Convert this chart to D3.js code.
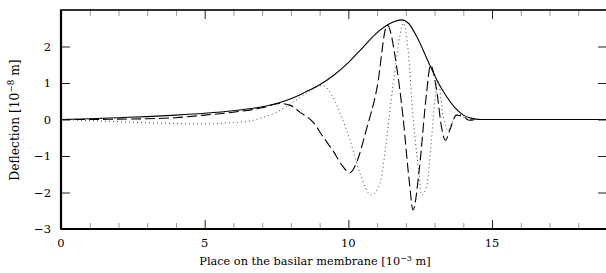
<!DOCTYPE html>
<html><head><meta charset="utf-8">
<script src="https://cdn.jsdelivr.net/npm/d3@7"></script>
<style>
html,body{margin:0;padding:0;background:#fff;}
svg{display:block;}
text{font-family:"DejaVu Serif","Liberation Serif",serif;fill:#000;}
</style></head>
<body>
<svg id="chart" width="606" height="273"></svg>
<script>
// ---- data ----
const xTicksMajor = [0, 5, 10, 15];
const xTicksMinor = [1,2,3,4,6,7,8,9,11,12,13,14,16,17,18];
const yTicks = [-3, -2, -1, 0, 1, 2];

const envX = [0,1,2,3,4,5,6,7,7.5,8,8.5,9,9.5,10,10.5,11,11.5,11.85,12.1,12.4,12.8,13.1,13.4,13.7,14,14.3,14.6,15,19];
const envY = [0,0.02,0.05,0.08,0.12,0.17,0.24,0.35,0.44,0.57,0.75,0.95,1.22,1.56,1.97,2.38,2.65,2.73,2.63,2.24,1.55,1.05,0.65,0.33,0.12,0.03,0,0,0];

const dashX = [0,1,2,3,4,5,6,7,7.6,8.0,8.3,8.8,9.1,9.5,9.8,10.05,10.3,10.6,11.0,11.35,11.68,11.9,12.12,12.25,12.47,12.72,12.86,13.07,13.24,13.38,13.53,13.76,14.0,14.2,14.5,19];
const dashY = [0,0,0.01,0.02,0.05,0.12,0.2,0.32,0.44,0.38,0.21,-0.1,-0.45,-0.9,-1.28,-1.46,-1.15,-0.35,0.88,2.59,1.45,0.08,-1.7,-2.48,-1.35,0.72,1.49,0.81,-0.2,-0.57,-0.29,0.12,0.08,-0.02,0,0];

const dotX = [0,1,2,3,4,5,6,6.5,7,7.5,8,8.5,8.9,9.1,9.47,9.8,10.05,10.4,10.8,11.1,11.33,11.56,11.79,11.92,12.08,12.25,12.43,12.56,12.72,12.89,13.0,13.12,13.3,13.47,13.62,13.85,14.1,14.4,19];
const dotY = [0,-0.03,-0.06,-0.09,-0.11,-0.12,-0.08,-0.05,0.05,0.2,0.43,0.7,0.9,0.93,0.6,0.0,-0.55,-1.47,-2.07,-1.75,-0.56,0.99,2.27,2.64,1.9,0.08,-1.29,-2.07,-1.84,-0.56,0.45,1.05,0.08,-0.3,-0.05,0.15,0.02,0,0];

// ---- layout ----
const L = 61, R = 607, T = 10, B = 229;
const svg = d3.select("#chart");
const x = d3.scaleLinear().domain([0, 19]).range([L, R]);
const y = d3.scaleLinear().domain([-3, 3]).range([B, T]);

svg.append("defs").append("clipPath").attr("id","clip")
  .append("rect").attr("x",L).attr("y",T).attr("width",R-L).attr("height",B-T);

const line = d3.line().x(d=>x(d[0])).y(d=>y(d[1])).curve(d3.curveMonotoneX);
const g = svg.append("g").attr("clip-path","url(#clip)");

g.append("path").datum(d3.zip(dotX, dotY)).attr("d", line)
  .attr("fill","none").attr("stroke","#444").attr("stroke-width",1)
  .attr("stroke-dasharray","1,3");
g.append("path").datum(d3.zip(dashX, dashY)).attr("d", line)
  .attr("fill","none").attr("stroke","#000").attr("stroke-width",1.1)
  .attr("stroke-dasharray","10,4");
g.append("path").datum(d3.zip(envX, envY)).attr("d", line)
  .attr("fill","none").attr("stroke","#000").attr("stroke-width",1.1);

// ---- axes (ticks inward) ----
const majLen = 9, minLen = 6;
const axB = svg.append("g").attr("transform",`translate(0,${B})`)
  .call(d3.axisTop(x).tickValues(xTicksMajor).tickSize(majLen).tickFormat(""));
const axBm = svg.append("g").attr("transform",`translate(0,${B})`)
  .call(d3.axisTop(x).tickValues(xTicksMinor).tickSize(minLen).tickFormat(""));
const axT = svg.append("g").attr("transform",`translate(0,${T})`)
  .call(d3.axisBottom(x).tickValues(xTicksMajor).tickSize(majLen).tickFormat(""));
const axTm = svg.append("g").attr("transform",`translate(0,${T})`)
  .call(d3.axisBottom(x).tickValues(xTicksMinor).tickSize(minLen).tickFormat(""));
const axL = svg.append("g").attr("transform",`translate(${L},0)`)
  .call(d3.axisRight(y).tickValues(yTicks).tickSize(majLen).tickFormat(""));
const axR = svg.append("g").attr("transform",`translate(${R},0)`)
  .call(d3.axisLeft(y).tickValues(yTicks).tickSize(majLen).tickFormat(""));
[axB,axT,axL,axR,axBm,axTm].forEach(a=>a.select(".domain").remove());
[axB,axT,axL,axR].forEach(a=>a.selectAll(".tick line").attr("stroke","#222").attr("stroke-width",1));
[axBm,axTm].forEach(a=>a.selectAll(".tick line").attr("stroke","#999").attr("stroke-width",1));

// frame
svg.append("rect").attr("x",L).attr("y",T).attr("width",R-L).attr("height",B-T)
  .attr("fill","none").attr("stroke","#000").attr("stroke-width",1.6);
svg.append("line").attr("x1",L).attr("x2",L).attr("y1",T).attr("y2",B)
  .attr("stroke","#000").attr("stroke-width",2.2);
svg.append("line").attr("x1",L).attr("x2",R).attr("y1",B).attr("y2",B)
  .attr("stroke","#000").attr("stroke-width",2.2);

// tick labels
const fmt = v => (v < 0 ? "\u2212" + Math.abs(v) : String(v));
svg.append("g").selectAll("text").data(xTicksMajor).join("text")
  .attr("x", d=>x(d)).attr("y", B+18).attr("text-anchor","middle")
  .attr("font-size",11.5).text(fmt);
svg.append("g").selectAll("text").data(yTicks).join("text")
  .attr("x", L-10).attr("y", d=>y(d)+4).attr("text-anchor","end")
  .attr("font-size",11.5).text(fmt);

// axis titles
const xt = svg.append("text").attr("x", 315).attr("y", 265)
  .attr("text-anchor","middle").attr("font-size",11.3);
xt.append("tspan").text("Place on the basilar membrane [10");
xt.append("tspan").attr("dy",-4.5).attr("font-size",8).text("\u22123");
xt.append("tspan").attr("dy",4.5).text(" m]");

const yt = svg.append("text").attr("transform","translate(19,120) rotate(-90)")
  .attr("text-anchor","middle").attr("font-size",12.3);
yt.append("tspan").text("Deflection [10");
yt.append("tspan").attr("dy",-5).attr("font-size",8.7).text("\u22128");
yt.append("tspan").attr("dy",5).text(" m]");
</script>
</body></html>
